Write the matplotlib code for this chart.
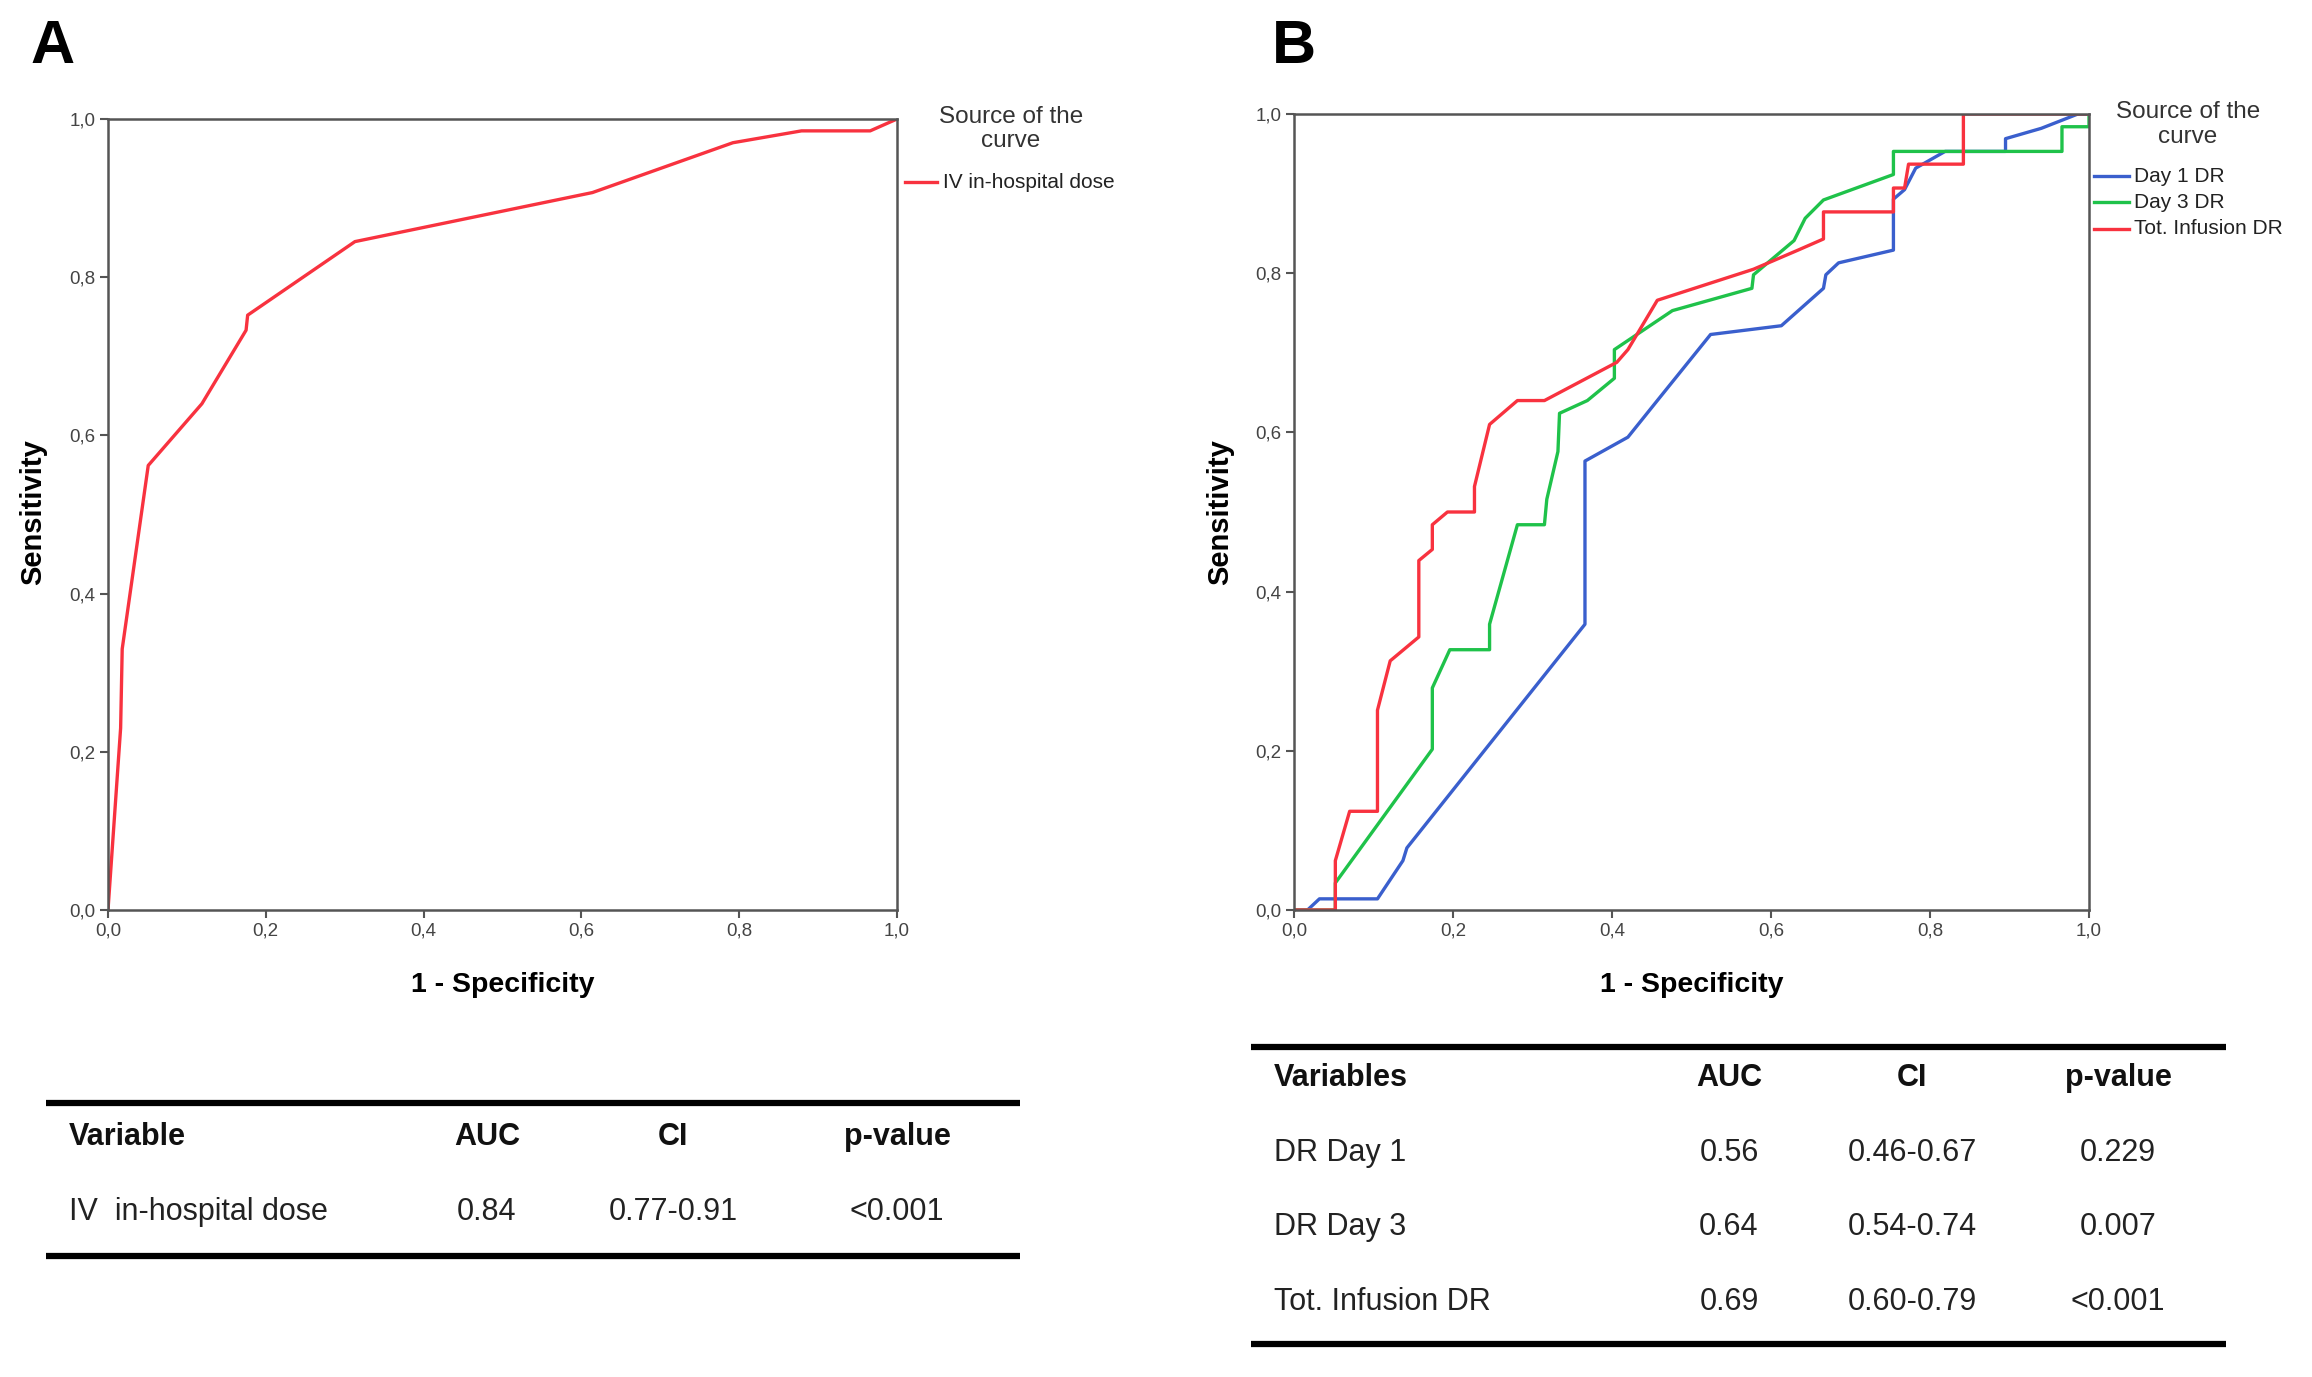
import matplotlib
matplotlib.use("Agg")
import matplotlib.pyplot as plt
from matplotlib.lines import Line2D

plt.rcParams['font.family'] = ['Liberation Sans', 'DejaVu Sans']

W, H = 2312, 1377
DPI = 100

# ---------------- data ----------------
# Panel A: IV in-hospital dose ROC
a_fpr  = [0.0, 0.016, 0.018, 0.051, 0.119, 0.175, 0.177, 0.313, 0.614, 0.792, 0.879, 0.966, 1.0]
a_sens = [0.0, 0.230, 0.330, 0.562, 0.640, 0.733, 0.752, 0.845, 0.907, 0.970, 0.985, 0.985, 1.0]

# Panel B
day1_fpr  = [0.0, 0.017, 0.032, 0.105, 0.137, 0.142, 0.366, 0.366, 0.420, 0.457, 0.524, 0.613,
             0.666, 0.669, 0.685, 0.754, 0.754, 0.768, 0.782, 0.819, 0.895, 0.895, 0.940, 0.986, 1.0]
day1_sens = [0.0, 0.0, 0.014, 0.014, 0.062, 0.078, 0.359, 0.564, 0.594, 0.640, 0.723, 0.734,
             0.781, 0.798, 0.813, 0.829, 0.893, 0.905, 0.932, 0.953, 0.953, 0.969, 0.982, 1.0, 1.0]

day3_fpr  = [0.0, 0.052, 0.052, 0.174, 0.174, 0.196, 0.246, 0.246, 0.281, 0.315, 0.318, 0.332,
             0.334, 0.369, 0.403, 0.403, 0.476, 0.576, 0.578, 0.629, 0.643, 0.666, 0.754, 0.754,
             0.966, 0.966, 1.0, 1.0]
day3_sens = [0.0, 0.0, 0.034, 0.202, 0.279, 0.327, 0.327, 0.359, 0.484, 0.484, 0.516, 0.576,
             0.624, 0.640, 0.668, 0.704, 0.753, 0.781, 0.798, 0.841, 0.869, 0.892, 0.924, 0.953,
             0.953, 0.984, 0.984, 1.0]

tot_fpr  = [0.0, 0.052, 0.052, 0.070, 0.105, 0.105, 0.121, 0.157, 0.157, 0.174, 0.174, 0.193,
            0.227, 0.227, 0.246, 0.281, 0.315, 0.406, 0.420, 0.457, 0.578, 0.634, 0.666, 0.666,
            0.754, 0.754, 0.768, 0.773, 0.842, 0.842, 1.0]
tot_sens = [0.0, 0.0, 0.062, 0.124, 0.124, 0.251, 0.313, 0.343, 0.439, 0.453, 0.484, 0.500,
            0.500, 0.532, 0.610, 0.640, 0.640, 0.688, 0.704, 0.766, 0.805, 0.829, 0.843, 0.877,
            0.877, 0.907, 0.907, 0.937, 0.937, 1.0, 1.0]

ticks = [0.0, 0.2, 0.4, 0.6, 0.8, 1.0]
tick_labels = ['0,0', '0,2', '0,4', '0,6', '0,8', '1,0']

table_a_header = ['Variable', 'AUC', 'CI', 'p-value']
table_a_rows = [['IV  in-hospital dose', '0.84', '0.77-0.91', '<0.001']]

table_b_header = ['Variables', 'AUC', 'CI', 'p-value']
table_b_rows = [['DR Day 1', '0.56', '0.46-0.67', '0.229'],
                ['DR Day 3', '0.64', '0.54-0.74', '0.007'],
                ['Tot. Infusion DR', '0.69', '0.60-0.79', '<0.001']]

RED = '#f8323f'
BLUE = '#3a5fcd'
GREEN = '#1fc24a'
SPINE = '#555555'

fig = plt.figure(figsize=(W / DPI, H / DPI), dpi=DPI)


def px_axes(left, top, right, bottom):
    return fig.add_axes([left / W, 1 - bottom / H, (right - left) / W, (bottom - top) / H])


def style_ax(ax):
    ax.set_xlim(0, 1)
    ax.set_ylim(0, 1)
    ax.set_xticks(ticks)
    ax.set_yticks(ticks)
    ax.set_xticklabels(tick_labels)
    ax.set_yticklabels(tick_labels)
    for s in ax.spines.values():
        s.set_color(SPINE)
        s.set_linewidth(1.8)
    ax.tick_params(direction='out', length=6, width=1.5, color=SPINE,
                   labelsize=13.5, labelcolor='#444444', pad=3)


def fx(x):
    return x / W


def fy(y):
    return 1 - y / H


# ---------------- Panel A ----------------
axA = px_axes(108, 119, 897, 910)
style_ax(axA)
axA.plot(a_fpr, a_sens, color=RED, lw=2.4, solid_joinstyle='round')
fig.text(fx(503), fy(985), '1 - Specificity', ha='center', va='center',
         fontsize=20.5, fontweight='bold')
fig.text(fx(33), fy(512), 'Sensitivity', ha='center', va='center', rotation=90,
         fontsize=21, fontweight='bold')
fig.text(fx(30), fy(63), 'A', ha='left', va='baseline', fontsize=44, fontweight='bold')

# legend A
fig.text(fx(1011), fy(117), 'Source of the', ha='center', va='center', fontsize=17.5, color='#333333')
fig.text(fx(1011), fy(141), 'curve', ha='center', va='center', fontsize=17.5, color='#333333')
fig.add_artist(Line2D([fx(905), fx(937)], [fy(182), fy(182)], color=RED, lw=2.4))
fig.text(fx(943), fy(182), 'IV in-hospital dose', ha='left', va='center', fontsize=15,
         color='#222222')

# ---------------- Panel B ----------------
axB = px_axes(1294, 114, 2089, 910)
style_ax(axB)
axB.plot(day1_fpr, day1_sens, color=BLUE, lw=2.4, solid_joinstyle='round')
axB.plot(day3_fpr, day3_sens, color=GREEN, lw=2.4, solid_joinstyle='round')
axB.plot(tot_fpr, tot_sens, color=RED, lw=2.4, solid_joinstyle='round')
fig.text(fx(1692), fy(985), '1 - Specificity', ha='center', va='center',
         fontsize=20.5, fontweight='bold')
fig.text(fx(1220), fy(512), 'Sensitivity', ha='center', va='center', rotation=90,
         fontsize=21, fontweight='bold')
fig.text(fx(1272), fy(63), 'B', ha='left', va='baseline', fontsize=44, fontweight='bold')

fig.text(fx(2188), fy(112), 'Source of the', ha='center', va='center', fontsize=17.5, color='#333333')
fig.text(fx(2188), fy(137), 'curve', ha='center', va='center', fontsize=17.5, color='#333333')
for yy, col, lab in [(176, BLUE, 'Day 1 DR'), (202, GREEN, 'Day 3 DR'), (229, RED, 'Tot. Infusion DR')]:
    fig.add_artist(Line2D([fx(2094), fx(2129)], [fy(yy), fy(yy)], color=col, lw=2.4))
    fig.text(fx(2134), fy(yy), lab, ha='left', va='center', fontsize=15, color='#222222')


# ---------------- Tables ----------------
def hline(x0, x1, y):
    fig.add_artist(Line2D([fx(x0), fx(x1)], [fy(y), fy(y)], color='black', lw=4.5,
                          solid_capstyle='butt'))


def draw_table(header, rows, col_x, col_align, header_y, row_ys, fs):
    for txt, x, al in zip(header, col_x, col_align):
        fig.text(fx(x), fy(header_y), txt, ha=al, va='center', fontsize=fs,
                 fontweight='bold', color='#111111')
    for row, yy in zip(rows, row_ys):
        for txt, x, al in zip(row, col_x, col_align):
            fig.text(fx(x), fy(yy), txt, ha=al, va='center', fontsize=fs, color='#222222')


hline(46, 1020, 1103)
hline(46, 1020, 1256)
draw_table(table_a_header, table_a_rows, [69, 487, 673, 897],
           ['left', 'center', 'center', 'center'], 1137, [1212], 22)

hline(1251, 2226, 1047)
hline(1251, 2226, 1344)
draw_table(table_b_header, table_b_rows, [1274, 1729, 1912, 2118],
           ['left', 'center', 'center', 'center'], 1078, [1153, 1227, 1302], 22)

fig.savefig('out.png', dpi=DPI)
